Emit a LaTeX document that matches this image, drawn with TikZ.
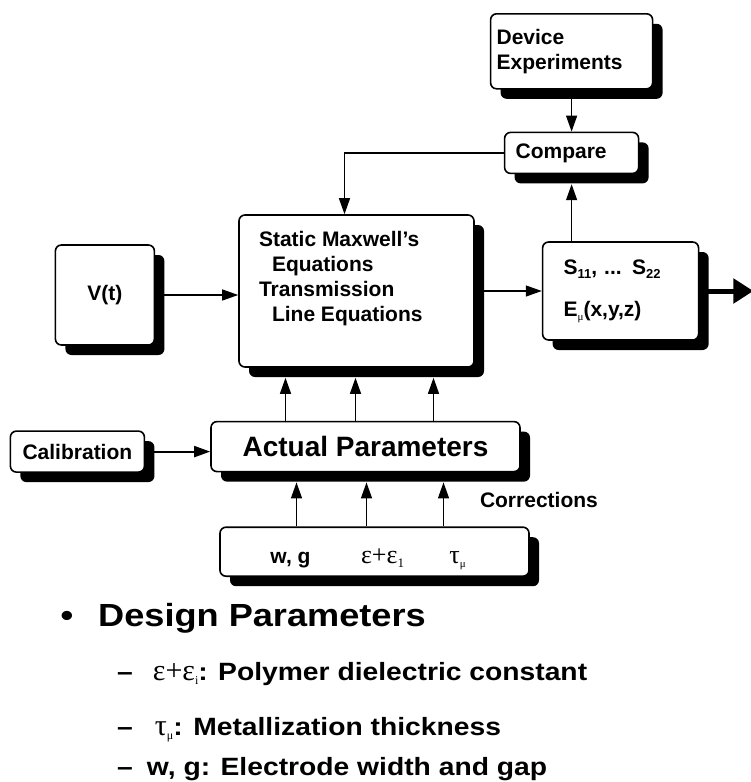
\documentclass[tikz,border=0pt]{standalone}
\usepackage{fontspec}
\setmainfont{Liberation Sans}
\newfontfamily\grk{Liberation Serif}
\newfontfamily\listfont[FakeStretch=1.13]{Liberation Sans}
\usepackage{tikz}
\usetikzlibrary{arrows.meta, positioning, calc, shadows}
% small lowered index, as in S_11 or tau_mu
\newcommand\lsub[2][13pt]{\raisebox{-4pt}{\fontsize{#1}{#1}\selectfont#2}}
\tikzset{
  box/.style  = {rectangle, draw=black, line width=1.6pt, fill=white,
                 rounded corners=6pt, align=center, inner sep=0pt,
                 font=\fontsize{21pt}{25pt}\selectfont\bfseries,
                 drop shadow={shadow xshift=10pt, shadow yshift=-10pt,
                              fill=black, opacity=1}},
  lbl/.style  = {inner sep=0pt, font=\fontsize{21pt}{25pt}\selectfont\bfseries},
  sym/.style  = {inner sep=0pt, font=\grk\fontsize{26pt}{28pt}\selectfont},
  item/.style = {anchor=base west, inner sep=0pt,
                 font=\listfont\fontsize{25pt}{30pt}\selectfont\bfseries},
  head/.style = {inner sep=0pt,
                 font=\listfont\fontsize{32pt}{36pt}\selectfont\bfseries},
  arr/.style  = {-{Triangle[length=16pt, width=11pt]}, line width=1.3pt},
  fat/.style  = {-{Triangle[length=20pt, width=24pt]}, line width=5pt},
}

\begin{document}
\begin{tikzpicture}[x=1pt, y=-1pt, node distance=4mm]
  \useasboundingbox (0,0) rectangle (751,782);

  % solver in the middle, everything hangs off it
  \node[box, minimum width=235pt, minimum height=152pt] (main) at (356.5,291)
    {\parbox[c][120pt][t]{195pt}{\raggedright
      Static Maxwell's\\
      \hspace*{13pt}Equations\\
      Transmission\\
      \hspace*{13pt}Line Equations}};

  \node[box, minimum width=99pt, minimum height=100pt,
        left=83pt of main, yshift=-4pt] (vt) {V(t)};

  \node[box, minimum width=156pt, minimum height=98pt, text width=114pt,
        align=left, right=67pt of main] (sp)
    {S\lsub{11}, ... S\lsub{22}\\[17pt]
     E\lsub[11pt]{\grk\mdseries μ}(x,y,z)};
  \coordinate (out) at ($(sp.east)+(54,0)$);

  \node[box, minimum width=134pt, minimum height=41pt, text width=112pt,
        align=left, above=67pt of sp, xshift=-49pt] (cmp) {Compare};
  \node[box, minimum width=162pt, minimum height=75pt, text width=150pt,
        align=left, above=42pt of cmp] (dev) {Device\\Experiments};

  \node[box, minimum width=309pt, minimum height=50pt, below=53pt of main,
        xshift=9pt, font=\fontsize{28pt}{32pt}\selectfont\bfseries] (act)
    {Actual Parameters};
  \node[box, minimum width=134pt, minimum height=41pt,
        left=65pt of act, yshift=-5pt] (cal) {Calibration};
  \node[box, minimum width=309pt, minimum height=49pt,
        below=54pt of act, xshift=9pt] (par) {};

  % contents of the parameter box
  \node[lbl, anchor=base] (wg)  at ($(par)+(-84,12)$) {w, g};
  \node[sym, anchor=base] (eps) at ($(par)+(8,12)$) {ε+ε\lsub{1}};
  \node[sym, anchor=base] (tau) at ($(par)+(83,12)$) {τ\lsub[11pt]{μ}};
  \node[lbl, anchor=west] (corr) at ($(act.south east)+(-41,28)$) {Corrections};

  \draw[arr] (dev.south) -- (dev.south |- cmp.north);
  \draw[arr] (sp.north -| cmp) -- ([yshift=-10pt]cmp.south);
  \draw[arr] (cmp.west) -| ([xshift=-12pt]main.north);
  \draw[arr] (vt.east) -- (vt.east -| main.west);
  \draw[arr] (main.east |- sp.west) -- (sp.west);
  \draw[fat] (sp.east) -- (out);
  \draw[arr, line width=2pt] (cal.east) -- (cal.east -| act.west);
  \foreach \dx in {-80,-10,68}
    \draw[arr] ($(act.north)+(\dx,0)$) -- ($(act.north |- main.south)+(\dx,10)$);
  \foreach \dx in {-78,-8,69}
    \draw[arr] ($(par.north)+(\dx,0)$) -- ($(par.north |- act.south)+(\dx,10)$);

  % bullet list underneath
  \node[head, anchor=base] (bul) at (67,626) {•};
  \node[head, anchor=base west] (dp) at (98,626) {Design Parameters};
  \node[item] (it1) at (117,680)
    {–\hspace{20pt}{\grk\mdseries\fontsize{30pt}{30pt}\selectfont
      ε+ε\lsub[12pt]{i}}: Polymer dielectric constant};
  \node[item] (it2) at (117,735)
    {–\hspace{22pt}{\grk\mdseries\fontsize{30pt}{30pt}\selectfont
      τ\lsub[12pt]{μ}}: Metallization thickness};
  \node[item] (it3) at (117,775) {–\hspace{14pt}w, g: Electrode width and gap};
\end{tikzpicture}
\end{document}
